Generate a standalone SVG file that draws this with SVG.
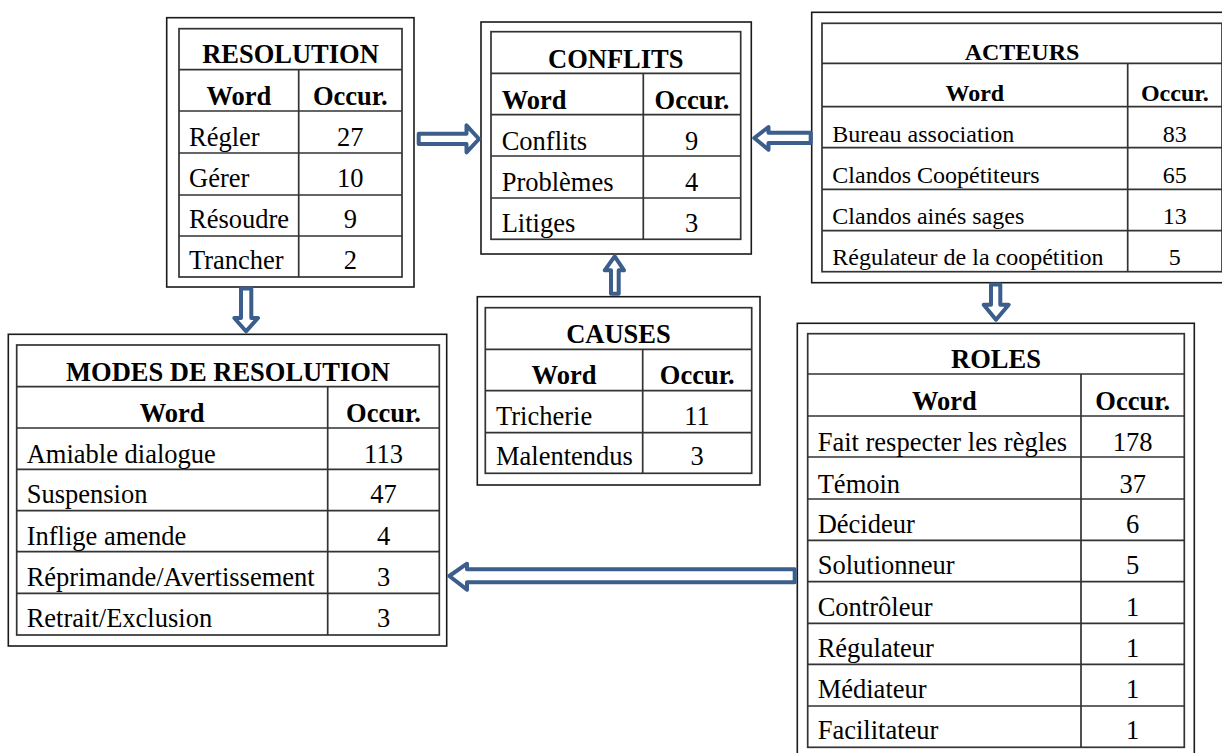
<svg xmlns="http://www.w3.org/2000/svg" width="1222" height="753" viewBox="0 0 1222 753">
<style>
.outer{fill:#fff;stroke:#1a1a1a;stroke-width:1.6}
.tbl{fill:none;stroke:#333;stroke-width:1.7}
.g{stroke:#333;stroke-width:1.7}
text{font-family:"Liberation Serif","Times New Roman",serif;font-size:26.5px;fill:#000}
.h{font-weight:bold}
.c{text-anchor:middle}
.small text{font-size:24px}
.arrow{fill:#fff;stroke:#3b5e8d;stroke-width:4;stroke-linejoin:round}
</style>
<rect width="1222" height="753" fill="#fff"/>

<g id="resolution">
<rect class="outer" x="166.7" y="17.7" width="247.3" height="269.3"/>
<rect class="tbl" x="179" y="28.7" width="223" height="248.3"/>
<path class="g" d="M179,69.7H402M179,111H402M179,153H402M179,195H402M179,236H402M298.7,69.7V277"/>
<text class="h c" x="290.5" y="63.3">RESOLUTION</text>
<text class="h c" x="238.8" y="105">Word</text>
<text class="h c" x="350.3" y="105">Occur.</text>
<text x="189" y="146">Régler</text><text class="c" x="350.3" y="146">27</text>
<text x="189" y="187.3">Gérer</text><text class="c" x="350.3" y="187.3">10</text>
<text x="189" y="228.3">Résoudre</text><text class="c" x="350.3" y="228.3">9</text>
<text x="189" y="269.3">Trancher</text><text class="c" x="350.3" y="269.3">2</text>
</g>

<g id="conflits">
<rect class="outer" x="481" y="22" width="270.3" height="232"/>
<rect class="tbl" x="491" y="31.7" width="249.7" height="207.6"/>
<path class="g" d="M491,73.3H740.7M491,114.7H740.7M491,156H740.7M491,198H740.7M643.3,73.3V239.3"/>
<text class="h c" x="615.8" y="67.7">CONFLITS</text>
<text class="h" x="501.7" y="109">Word</text>
<text class="h c" x="692" y="109">Occur.</text>
<text x="501.7" y="150">Conflits</text><text class="c" x="691.5" y="150">9</text>
<text x="501.7" y="191">Problèmes</text><text class="c" x="691.5" y="191">4</text>
<text x="501.7" y="232">Litiges</text><text class="c" x="691.5" y="232">3</text>
</g>

<g id="acteurs" class="small">
<rect class="outer" x="811.7" y="12.3" width="421" height="270.4"/>
<rect class="tbl" x="822" y="23.3" width="400" height="248.4"/>
<path class="g" d="M822,63.3H1222M822,106.7H1222M822,147.7H1222M822,189.3H1222M822,230.7H1222M1127.7,63.3V271.7"/>
<text class="h c" x="1022" y="60">ACTEURS</text>
<text class="h c" x="974.8" y="101">Word</text>
<text class="h c" x="1174.8" y="101">Occur.</text>
<text x="832.3" y="141.7">Bureau association</text><text class="c" x="1174.8" y="141.7">83</text>
<text x="832.3" y="183.3">Clandos Coopétiteurs</text><text class="c" x="1174.8" y="183.3">65</text>
<text x="832.3" y="224">Clandos ainés sages</text><text class="c" x="1174.8" y="224">13</text>
<text x="832.3" y="265">Régulateur de la coopétition</text><text class="c" x="1174.8" y="265">5</text>
</g>

<g id="causes">
<rect class="outer" x="477.3" y="296.7" width="282.7" height="188.3"/>
<rect class="tbl" x="485.3" y="307.7" width="266.4" height="165.6"/>
<path class="g" d="M485.3,349.3H751.7M485.3,390.7H751.7M485.3,432.7H751.7M642.7,349.3V473.3"/>
<text class="h c" x="618.5" y="343.3">CAUSES</text>
<text class="h c" x="564" y="384">Word</text>
<text class="h c" x="697.2" y="384">Occur.</text>
<text x="496" y="425">Tricherie</text><text class="c" x="697" y="425">11</text>
<text x="496" y="465">Malentendus</text><text class="c" x="697" y="465">3</text>
</g>

<g id="modes">
<rect class="outer" x="8.3" y="334.3" width="438.4" height="311.7"/>
<rect class="tbl" x="16.7" y="345" width="422.6" height="290"/>
<path class="g" d="M16.7,386.7H439.3M16.7,428H439.3M16.7,469.3H439.3M16.7,510.7H439.3M16.7,551.7H439.3M16.7,593.3H439.3M327.7,386.7V635"/>
<text class="h c" x="228" y="381">MODES DE RESOLUTION</text>
<text class="h c" x="172.2" y="421.7">Word</text>
<text class="h c" x="383.5" y="421.7">Occur.</text>
<text x="26.7" y="462.7">Amiable dialogue</text><text class="c" x="383.5" y="462.7">113</text>
<text x="26.7" y="503.3">Suspension</text><text class="c" x="383.5" y="503.3">47</text>
<text x="26.7" y="545">Inflige amende</text><text class="c" x="383.5" y="545">4</text>
<text x="26.7" y="586">Réprimande/Avertissement</text><text class="c" x="383.5" y="586">3</text>
<text x="26.7" y="627.3">Retrait/Exclusion</text><text class="c" x="383.5" y="627.3">3</text>
</g>

<g id="roles">
<rect class="outer" x="797.3" y="323.3" width="397" height="440"/>
<rect class="tbl" x="807.7" y="333.7" width="376.6" height="413.6"/>
<path class="g" d="M807.7,374H1184.3M807.7,416H1184.3M807.7,457H1184.3M807.7,499H1184.3M807.7,540.3H1184.3M807.7,581.7H1184.3M807.7,623.3H1184.3M807.7,664.3H1184.3M807.7,706H1184.3M1081,374V747.3"/>
<text class="h c" x="996" y="368.3">ROLES</text>
<text class="h c" x="944.3" y="410">Word</text>
<text class="h c" x="1132.7" y="410">Occur.</text>
<text x="817.7" y="450.7">Fait respecter les règles</text><text class="c" x="1132.7" y="450.7">178</text>
<text x="817.7" y="492.7">Témoin</text><text class="c" x="1132.7" y="492.7">37</text>
<text x="817.7" y="533.3">Décideur</text><text class="c" x="1132.7" y="533.3">6</text>
<text x="817.7" y="574.3">Solutionneur</text><text class="c" x="1132.7" y="574.3">5</text>
<text x="817.7" y="616">Contrôleur</text><text class="c" x="1132.7" y="616">1</text>
<text x="817.7" y="656.7">Régulateur</text><text class="c" x="1132.7" y="656.7">1</text>
<text x="817.7" y="698.3">Médiateur</text><text class="c" x="1132.7" y="698.3">1</text>
<text x="817.7" y="739.3">Facilitateur</text><text class="c" x="1132.7" y="739.3">1</text>
</g>

<g id="connectors">
<path class="arrow" d="M418.7,133.7H466.5V125.3L479,139L466.5,152.3V144H418.7Z"/>
<path class="arrow" d="M810.7,132.7H768.5V127L754.3,138L768.5,149.7V143H810.7Z"/>
<path class="arrow" d="M611,293.7V270.3H604.7L614.7,256.3L624,270.3H618.7V293.7Z"/>
<path class="arrow" d="M241,288.5V318H234.3L246,331.3L258,318H251.3V288.5Z"/>
<path class="arrow" d="M991,284.5V304.7H983.7L996,319.7L1008.7,304.7H1000.3V284.5Z"/>
<path class="arrow" d="M794.7,569.3H467V563.7L449.3,576L467,589.7V582.3H794.7Z"/>
</g>
</svg>
